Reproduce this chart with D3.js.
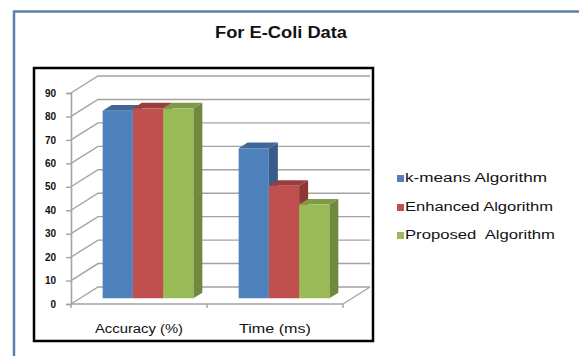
<!DOCTYPE html>
<html>
<head>
<meta charset="utf-8">
<script src="https://cdn.jsdelivr.net/npm/d3@7"></script>
<style>
  html, body { margin: 0; padding: 0; background: #fff; }
  svg { display: block; font-family: "Liberation Sans", Arial, sans-serif; }
</style>
</head>
<body>
<svg id="chart" width="579" height="356"></svg>
<script>
// Chart data
const categories = ["Accuracy (%)", "Time (ms)"];
const seriesNames = ["k-means Algorithm", "Enhanced Algorithm", "Proposed  Algorithm"];
const kmeansValues = [80, 64];
const enhancedValues = [81, 48];
const proposedValues = [81, 40];
const yTicks = [0, 10, 20, 30, 40, 50, 60, 70, 80, 90];

const seriesValues = [kmeansValues, enhancedValues, proposedValues];
const fronts = ["#4f81bd", "#c0504d", "#9bbb59"];
const sides = ["#385d8a", "#8c3836", "#71893f"];
const tops = ["#3f6797", "#9a3d3b", "#7e9a46"];

const svg = d3.select("#chart");

// Outer frame (top and left edges)
svg.append("line").attr("x1", 13).attr("y1", 11.5).attr("x2", 579).attr("y2", 11.5)
  .attr("stroke", "#5b7fb0").attr("stroke-width", 2.5);
svg.append("line").attr("x1", 14).attr("y1", 11).attr("x2", 14).attr("y2", 356)
  .attr("stroke", "#5b7fb0").attr("stroke-width", 2.5);

// Title
svg.append("text").attr("x", 281).attr("y", 38).attr("text-anchor", "middle")
  .attr("font-size", 16).attr("font-weight", "bold").attr("fill", "#111")
  .attr("textLength", 132).attr("lengthAdjust", "spacingAndGlyphs")
  .text("For E-Coli Data");

// Plot area border
svg.append("rect").attr("x", 34).attr("y", 68).attr("width", 339).attr("height", 273)
  .attr("fill", "#fff").attr("stroke", "#000").attr("stroke-width", 2.5);

// 3D projection: depth fraction f shifts right by DX and up by DY
const DX = 27, DY = 17;
const y = d3.scaleLinear().domain([0, 90]).range([304, 93]);
const x = d3.scaleBand().domain(categories).range([71, 343]).paddingInner(0).paddingOuter(0);
const xs = d3.scaleBand().domain(d3.range(seriesNames.length)).range([0, x.bandwidth()])
  .paddingInner(0).paddingOuter(0.75);
const P = (px, v, f) => [px + f * DX, y(v) - f * DY];
const poly = pts => pts.map(p => p.join(",")).join(" ");

const grid = svg.append("g").attr("stroke", "#a3a3a3").attr("stroke-width", 1.4).attr("fill", "none");
const [x0, x1] = x.range();
// back wall and left wall gridlines
yTicks.forEach(t => {
  const a = P(x0, t, 0), b = P(x0, t, 1), c = P(x1, t, 1);
  grid.append("polyline").attr("points", poly([a, b, c]));
});
// floor right edge
grid.append("line").attr("x1", x1).attr("y1", y(0)).attr("x2", P(x1, 0, 1)[0]).attr("y2", P(x1, 0, 1)[1]);

// value axis (front)
const yAxis = svg.append("g").attr("transform", `translate(${x0},0)`)
  .call(d3.axisLeft(y).tickValues(yTicks).tickSize(5).tickPadding(10));
yAxis.select(".domain").attr("stroke", "#a3a3a3").attr("stroke-width", 1.6);
yAxis.selectAll(".tick line").attr("stroke", "#a3a3a3").attr("stroke-width", 1.4);
yAxis.selectAll(".tick text").attr("font-size", 10).attr("font-weight", "bold")
  .attr("fill", "#111").attr("font-family", "Liberation Sans, Arial, sans-serif");

// category axis (front floor edge)
const xAxis = svg.append("g").attr("transform", `translate(0,${y(0)})`)
  .call(d3.axisBottom(x).tickSize(0).tickPadding(20));
xAxis.select(".domain").remove();
xAxis.selectAll(".tick text").attr("font-size", 12).attr("fill", "#111")
  .attr("font-family", "Liberation Sans, Arial, sans-serif")
  .attr("textLength", (d, i) => [88, 72][i]).attr("lengthAdjust", "spacingAndGlyphs");
svg.append("line").attr("x1", x0).attr("y1", y(0)).attr("x2", x1).attr("y2", y(0))
  .attr("stroke", "#a3a3a3").attr("stroke-width", 1.6);
[x0, ...categories.map(c => x(c) + x.bandwidth())].forEach(px => {
  svg.append("line").attr("x1", px).attr("y1", y(0)).attr("x2", px).attr("y2", y(0) + 4)
    .attr("stroke", "#a3a3a3").attr("stroke-width", 1.4);
});

// bars, drawn left to right so nearer faces overlap
const F0 = 1 / 3, F1 = 2 / 3;
const bars = svg.append("g");
categories.forEach((cat, ci) => {
  seriesValues.forEach((vals, si) => {
    const v = vals[ci];
    const l = x(cat) + xs(si), r = l + xs.bandwidth();
    const g = bars.append("g");
    g.append("polygon").attr("fill", sides[si])
      .attr("points", poly([P(r, 0, F0), P(r, v, F0), P(r, v, F1), P(r, 0, F1)]));
    g.append("polygon").attr("fill", tops[si])
      .attr("points", poly([P(l, v, F0), P(r, v, F0), P(r, v, F1), P(l, v, F1)]));
    g.append("polygon").attr("fill", fronts[si])
      .attr("points", poly([P(l, 0, F0), P(r, 0, F0), P(r, v, F0), P(l, v, F0)]));
  });
});

// legend
const legend = svg.append("g");
const rowY = [182, 211, 239];
const textLens = [142, 148, 150];
seriesNames.forEach((name, i) => {
  legend.append("rect").attr("x", 397).attr("y", rowY[i] - 7).attr("width", 7).attr("height", 7)
    .attr("fill", fronts[i]);
  legend.append("text").attr("x", 405).attr("y", rowY[i]).attr("font-size", 12)
    .attr("fill", "#111").attr("textLength", textLens[i]).attr("lengthAdjust", "spacingAndGlyphs")
    .attr("xml:space", "preserve").style("white-space", "pre")
    .text(name);
});
</script>
</body>
</html>
